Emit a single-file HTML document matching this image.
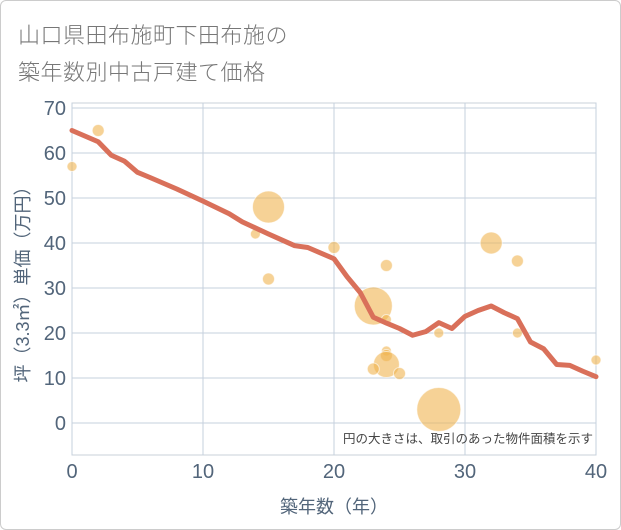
<!DOCTYPE html>
<html><head><meta charset="utf-8"><style>
body{margin:0;background:#fff;font-family:"Liberation Sans","Noto Sans CJK JP",sans-serif}
#wrap{position:relative;width:619px;height:528px;border:1px solid #ccc;border-radius:6px;overflow:hidden}
.t{position:absolute;left:17px;font-size:22px;color:#777;font-weight:300;letter-spacing:0.5px}
</style></head><body>
<div id="wrap">
<div class="t" style="top:17px">山口県田布施町下田布施の</div>
<div class="t" style="top:54px">築年数別中古戸建て価格</div>
<svg id="c" width="621" height="530" style="position:absolute;left:-1px;top:-1px"></svg>
</div>
<script>
const xTicks=[0,10,20,30,40];
const yTicks=[0,10,20,30,40,50,60,70];
const lineX=[0,2,3,4,5,6,8,10,12,13,15,17,18,20,21,22,23,24,25,26,27,28,29,30,31,32,33,34,35,36,37,38,39,40];
const lineY=[65,62.5,59.5,58.2,55.7,54.5,52,49.3,46.5,44.7,42,39.4,39,36.5,32.5,29,23.5,22.2,21,19.5,20.3,22.3,21,23.7,25,26,24.5,23.2,18,16.5,13,12.8,11.5,10.3];
const bubX=[0,2,14,15,15,20,23,24,24,24,24,24,23,25,28,28,32,34,34,40];
const bubY=[57,65,42,48,32,39,26,35,23,16,15,13,12,11,20,3,40,36,20,14];
const bubR=[5,6,5,16,6,6,19,6,5,5,6,13,6,6,5,22,11,6,5,5];
const ns="http://www.w3.org/2000/svg",svg=document.getElementById('c');
const L=72,R=596,T=103,B=455;
const sx=v=>L+(R-L)*v/40, sy=v=>423-4.5*v;
function mk(t,a,p){const e=document.createElementNS(ns,t);for(const k in a)e.setAttribute(k,a[k]);(p||svg).appendChild(e);return e;}
mk('rect',{x:L,y:T,width:R-L,height:B-T,fill:'#fff',stroke:'#c8d0da'});
yTicks.forEach(v=>{const g=mk('line',{x1:L,x2:R,y1:sy(v),y2:sy(v),stroke:'#c5d1de','stroke-width':1});

const t=mk('text',{x:L-6,y:sy(v)+7,'text-anchor':'end','font-size':20,fill:'#52657a'});t.textContent=v;
});
xTicks.forEach(v=>{const g=mk('line',{x1:sx(v),x2:sx(v),y1:T,y2:B,stroke:'#c5d1de','stroke-width':1});

const t=mk('text',{x:sx(v),y:478,'text-anchor':'middle','font-size':20,fill:'#52657a'});t.textContent=v;
});
bubX.forEach((x,i)=>{const c=mk('circle',{cx:sx(x),cy:sy(bubY[i]),r:bubR[i],fill:'rgba(240,180,80,0.6)',stroke:'rgba(255,255,255,0.6)','stroke-width':1});
});
const p=mk('polyline',{points:lineX.map((x,i)=>sx(x)+','+sy(lineY[i])).join(' '),fill:'none',stroke:'#d9705a','stroke-width':5,'stroke-linejoin':'round','stroke-linecap':'round'});

const n=mk('text',{x:593,y:443,'text-anchor':'end','font-size':12.5,fill:'#444'});n.textContent='円の大きさは、取引のあった物件面積を示す';

const xt=mk('text',{x:334,y:513,'text-anchor':'middle','font-size':18,fill:'#52657a'});xt.textContent='築年数（年）';

const yt=mk('text',{x:0,y:0,'text-anchor':'middle','font-size':18,fill:'#52657a',transform:'translate(29,280) rotate(-90)'});yt.textContent='坪（3.3㎡）単価（万円）';

</script>
</body></html>
